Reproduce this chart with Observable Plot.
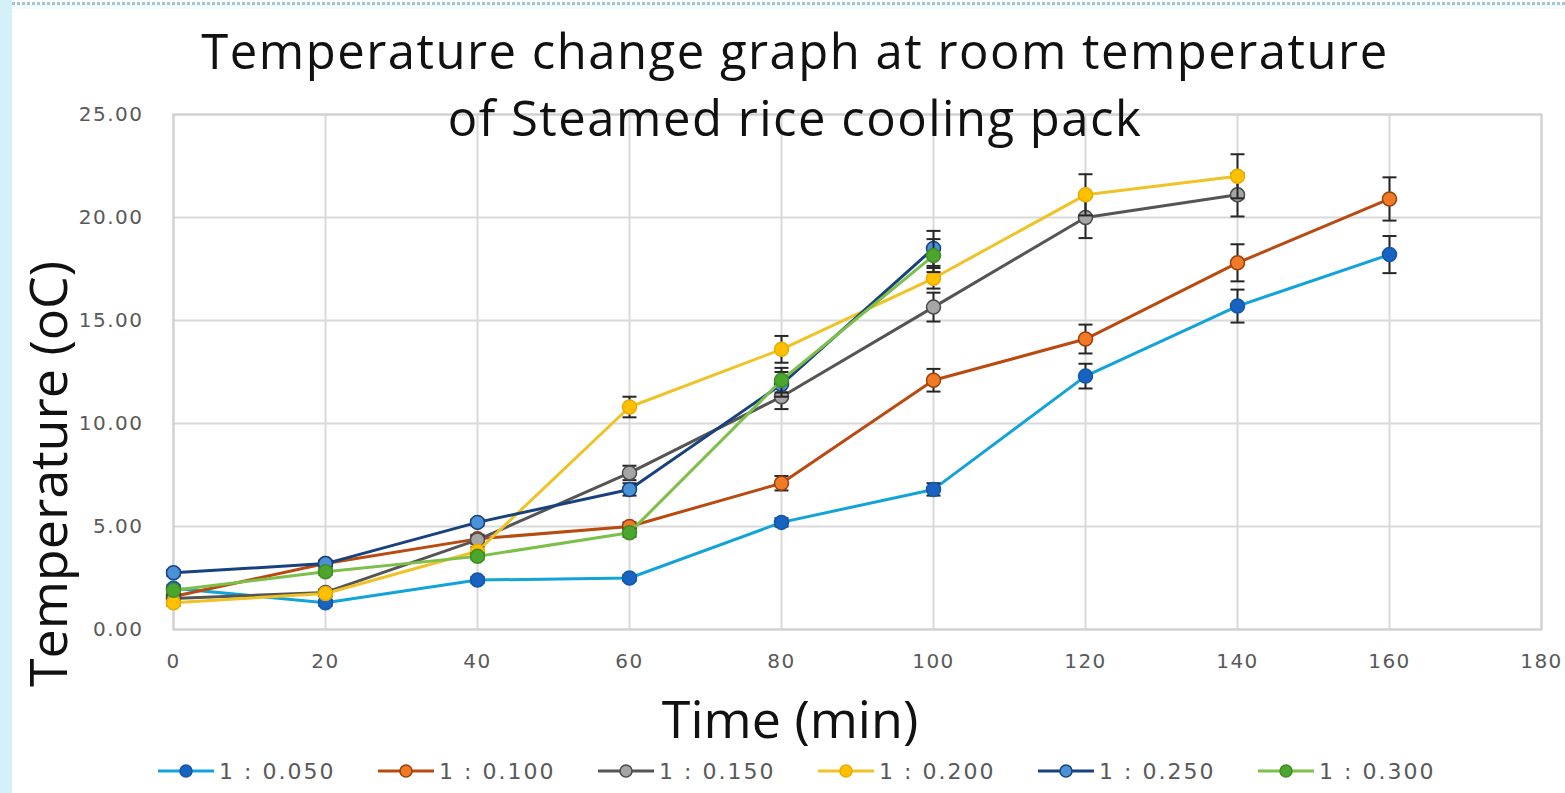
<!DOCTYPE html>
<html>
<head>
<meta charset="utf-8">
<script src="https://cdn.jsdelivr.net/npm/d3@7"></script>
<script src="https://cdn.jsdelivr.net/npm/@observablehq/plot@0.6"></script>
<style>
  html, body { margin: 0; padding: 0; background: #ffffff; }
  #wrap { position: relative; width: 1565px; height: 793px; overflow: hidden; background: #ffffff; }
  #band { position: absolute; left: 0; top: 0; width: 12px; height: 793px; background: #d4f1f9; }
  #dots { position: absolute; left: 12px; top: 2px; width: 1553px; height: 3px;
          background: repeating-linear-gradient(90deg, #9fc6d2 0 3px, transparent 3px 5px); }
  #tint { position: absolute; left: 12px; top: 5px; width: 1553px; height: 4px; background: #f2fbfd; }
  #chart { position: absolute; left: 0; top: 0; }
  .big { position: absolute; font-family: "Open Sans", sans-serif; font-size: 52px; color: #111; white-space: nowrap; line-height: 52px; }
  .ttl { font-size: 49px; line-height: 49px; letter-spacing: 1.5px; }
  #title1 { left: 0; width: 1590px; top: 25.5px; text-align: center; }
  #title2 { left: 0; width: 1590px; top: 92.5px; text-align: center; }
  #xlabel { left: 0; width: 1580px; top: 692px; text-align: center; }
  #ylabel { left: 47px; top: 474px; transform: translate(-50%, -50%) rotate(-90deg); }
  #legend { position: absolute; left: 157px; top: 757px; height: 28px; display: flex; }
  .item { width: 220px; display: flex; align-items: center; font-family: "DejaVu Sans", sans-serif;
          font-size: 22px; letter-spacing: 2px; color: #595959; }
  .item svg { margin-right: 4px; }
</style>
</head>
<body>
<div id="wrap">
  <div id="band"></div>
  <div id="tint"></div>
  <div id="dots"></div>
  <div id="chart"></div>
  <div id="title1" class="big ttl"></div>
  <div id="title2" class="big ttl"></div>
  <div id="xlabel" class="big"></div>
  <div id="ylabel" class="big"></div>
  <div id="legend"></div>
</div>
<script>
// ---- data ----
const titleLines = ["Temperature change graph at room temperature", "of Steamed rice cooling pack"];
const xLabel = "Time (min)";
const yLabel = "Temperature (oC)";
const xTicks = [0, 20, 40, 60, 80, 100, 120, 140, 160, 180];
const yTicks = [0, 5, 10, 15, 20, 25];
const seriesNames = ["1 : 0.050", "1 : 0.100", "1 : 0.150", "1 : 0.200", "1 : 0.250", "1 : 0.300"];
const times = [0, 20, 40, 60, 80, 100, 120, 140, 160];
const v050 = [2.0, 1.3, 2.4, 2.5, 5.2, 6.8, 12.3, 15.7, 18.2];
const e050 = [0.15, 0.15, 0.15, 0.15, 0.2, 0.3, 0.6, 0.8, 0.9];
const v100 = [1.6, 3.2, 4.4, 5.0, 7.1, 12.1, 14.1, 17.8, 20.9];
const e100 = [0.15, 0.15, 0.2, 0.2, 0.35, 0.55, 0.7, 0.9, 1.05];
const v150 = [1.5, 1.8, 4.35, 7.6, 11.3, 15.65, 20.0, 21.1];
const e150 = [0.15, 0.15, 0.2, 0.35, 0.6, 0.7, 1.0, 1.05];
const v200 = [1.3, 1.75, 3.8, 10.8, 13.6, 17.05, 21.1, 22.0];
const e200 = [0.15, 0.15, 0.2, 0.5, 0.65, 0.5, 1.0, 1.07];
const v250 = [2.75, 3.2, 5.2, 6.8, 11.9, 18.5];
const e250 = [0.15, 0.15, 0.15, 0.3, 0.6, 0.85];
const v300 = [1.9, 2.8, 3.55, 4.7, 12.1, 18.15];
const e300 = [0.15, 0.15, 0.15, 0.2, 0.6, 0.8];

// ---- styles ----
const lineColors   = ["#12a3d9", "#b94a10", "#555555", "#efc225", "#17427e", "#7cbf4a"];
const markerFills  = ["#1862c2", "#f07a26", "#a5a5a5", "#ffc000", "#4a92d8", "#4ca52c"];
const markerStrokes= ["#1456a8", "#9a3e0c", "#4a4a4a", "#e6ad00", "#17427e", "#3f8e25"];
const values = [v050, v100, v150, v200, v250, v300];
const errors = [e050, e100, e150, e200, e250, e300];

const seriesRows = values.map((vals, i) => vals.map((v, j) => ({series: seriesNames[i], t: times[j], v, e: errors[i][j]})));

const capSymbol = {
  draw(ctx, size) {
    const r = Math.sqrt(size / Math.PI);
    ctx.moveTo(-r, 0);
    ctx.lineTo(r, 0);
  }
};

const marks = [
  Plot.ruleX(xTicks, {stroke: "#d9d9d9", strokeWidth: 2}),
  Plot.ruleY(yTicks, {stroke: "#d9d9d9", strokeWidth: 2}),
  Plot.frame({stroke: "#d0d0d0", strokeWidth: 2})
];
seriesRows.forEach((rows, i) => {
  marks.push(
    Plot.line(rows, {x: "t", y: "v", stroke: lineColors[i], strokeWidth: 3}),
    Plot.ruleX(rows, {x: "t", y1: d => d.v - d.e, y2: d => d.v + d.e, stroke: "#262626", strokeWidth: 2}),
    Plot.dot(rows, {x: "t", y: d => d.v + d.e, symbol: capSymbol, r: 7, stroke: "#262626", strokeWidth: 2, fill: "none"}),
    Plot.dot(rows, {x: "t", y: d => d.v - d.e, symbol: capSymbol, r: 7, stroke: "#262626", strokeWidth: 2, fill: "none"}),
    Plot.dot(rows, {x: "t", y: "v", r: 7, fill: markerFills[i], stroke: markerStrokes[i], strokeWidth: 1.5})
  );
});

const chart = Plot.plot({
  width: 1565,
  height: 793,
  marginLeft: 173,
  marginRight: 24,
  marginTop: 114,
  marginBottom: 164,
  style: {fontFamily: "DejaVu Sans, sans-serif", fontSize: "20px", color: "#595959", background: "transparent", letterSpacing: "1.5px"},
  x: {domain: [0, 180], ticks: xTicks, tickFormat: d => String(d), tickSize: 0, tickPadding: 24, label: null},
  y: {domain: [0, 25], ticks: yTicks, tickFormat: d => d.toFixed(2), tickSize: 0, tickPadding: 30, label: null},
  marks
});
document.getElementById("chart").appendChild(chart);

document.getElementById("title1").textContent = titleLines[0];
document.getElementById("title2").textContent = titleLines[1];
document.getElementById("xlabel").textContent = xLabel;
document.getElementById("ylabel").textContent = yLabel;

const legend = document.getElementById("legend");
seriesNames.forEach((name, i) => {
  const item = document.createElement("div");
  item.className = "item";
  const ns = "http://www.w3.org/2000/svg";
  const svg = document.createElementNS(ns, "svg");
  svg.setAttribute("width", "58");
  svg.setAttribute("height", "20");
  const ln = document.createElementNS(ns, "line");
  ln.setAttribute("x1", "1"); ln.setAttribute("x2", "57");
  ln.setAttribute("y1", "10"); ln.setAttribute("y2", "10");
  ln.setAttribute("stroke", lineColors[i]); ln.setAttribute("stroke-width", "3");
  const c = document.createElementNS(ns, "circle");
  c.setAttribute("cx", "29"); c.setAttribute("cy", "10"); c.setAttribute("r", "6");
  c.setAttribute("fill", markerFills[i]); c.setAttribute("stroke", markerStrokes[i]); c.setAttribute("stroke-width", "1.5");
  svg.appendChild(ln); svg.appendChild(c);
  const span = document.createElement("span");
  span.textContent = name;
  item.appendChild(svg); item.appendChild(span);
  legend.appendChild(item);
});
</script>
</body>
</html>
